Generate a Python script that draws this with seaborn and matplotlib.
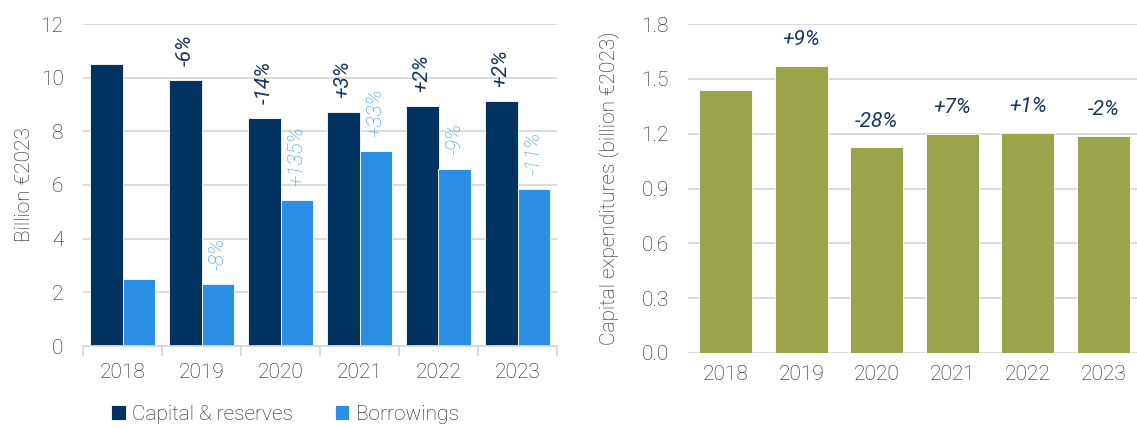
import matplotlib
matplotlib.use("Agg")
import matplotlib.pyplot as plt
import seaborn as sns
import pandas as pd
import numpy as np

years = ["2018", "2019", "2020", "2021", "2022", "2023"]
capital = [10.52, 9.90, 8.50, 8.72, 8.94, 9.14]
borrowings = [2.51, 2.30, 5.44, 7.27, 6.59, 5.86]
capital_labels = ["", "-6%", "-14%", "+3%", "+2%", "+2%"]
borrow_labels = ["", "-8%", "+135%", "+33%", "-9%", "-11%"]
capex = [1.44, 1.57, 1.125, 1.20, 1.205, 1.187]
capex_labels = ["", "+9%", "-28%", "+7%", "+1%", "-2%"]
series_names = ["Capital & reserves", "Borrowings"]

NAVY = "#00335F"
BLUE = "#2B8FE6"
OLIVE = "#9BA34B"
CAP_LBL = "#17365F"
BOR_LBL = "#3596EC"
GRID = "#D9D9D9"
TXT = "#1A1A1A"
FS = 15

sns.set_theme(style="white")
plt.rcParams["font.family"] = ["Roboto", "DejaVu Sans"]

fig = plt.figure(figsize=(11.37, 4.28), dpi=100)
axL = fig.add_axes([83 / 1137, 1 - 346 / 428, (557 - 83) / 1137, (346 - 24) / 428])
axR = fig.add_axes([688 / 1137, 1 - 353 / 428, (1141 - 688) / 1137, (353 - 24) / 428])

df = pd.DataFrame({
    "year": years * 2,
    "value": capital + borrowings,
    "series": [series_names[0]] * len(years) + [series_names[1]] * len(years),
})
sns.barplot(data=df, x="year", y="value", hue="series", palette=[NAVY, BLUE],
            width=0.83, ax=axL, legend=True, edgecolor="white", linewidth=0.6,
            saturation=1)

axL.set_ylim(0, 12)
axL.set_yticks(np.arange(0, 13, 2))
axL.set_xlim(-0.5, len(years) - 0.5)
axL.yaxis.grid(True, color=GRID, linewidth=1.3)
axL.set_axisbelow(True)
for s in ["top", "right", "left"]:
    axL.spines[s].set_visible(False)
axL.spines["bottom"].set_color(GRID)
axL.spines["bottom"].set_linewidth(1.3)
axL.set_xticks(np.arange(-0.5, len(years), 1.0), minor=True)
axL.tick_params(axis="x", which="minor", length=7, width=1.3, color=GRID, bottom=True)
axL.tick_params(axis="x", which="major", length=0, pad=12, labelsize=FS, labelcolor=TXT)
axL.tick_params(axis="y", length=0, pad=14, labelsize=FS, labelcolor=TXT)
axL.set_xlabel("")
axL.set_ylabel("Billion €2023", fontsize=FS, color=TXT, labelpad=5, fontweight="light")
for lbl in axL.get_xticklabels() + axL.get_yticklabels():
    lbl.set_fontweight("light")

for bar, t in zip(axL.containers[0], capital_labels):
    if t:
        axL.annotate(t, (bar.get_x() + bar.get_width() / 2, bar.get_height()),
                     xytext=(0, 10), textcoords="offset points", rotation=90,
                     ha="center", va="bottom", fontsize=FS, style="italic",
                     fontweight="normal", color=CAP_LBL)
for bar, t in zip(axL.containers[1], borrow_labels):
    if t:
        axL.annotate(t, (bar.get_x() + bar.get_width() / 2, bar.get_height()),
                     xytext=(0, 10), textcoords="offset points", rotation=90,
                     ha="center", va="bottom", fontsize=FS, style="italic",
                     fontweight="light", color=BOR_LBL)

leg = axL.legend(loc="center", bbox_to_anchor=(285 / 1137, 1 - 414 / 428),
                 bbox_transform=fig.transFigure, ncol=2, frameon=False,
                 fontsize=FS, handlelength=0.7, handleheight=0.7,
                 handletextpad=0.3, columnspacing=2.0)
for txt in leg.get_texts():
    txt.set_color(TXT)
    txt.set_fontweight("light")

dfr = pd.DataFrame({"year": years, "capex": capex})
sns.barplot(data=dfr, x="year", y="capex", color=OLIVE, width=0.7, ax=axR,
            edgecolor="white", linewidth=0.6, saturation=1)
axR.set_ylim(0, 1.8)
axR.set_yticks(np.arange(0, 1.81, 0.3))
axR.set_yticklabels([f"{v:.1f}" for v in np.arange(0, 1.81, 0.3)])
axR.set_xlim(-0.5, len(years) - 0.5)
axR.yaxis.grid(True, color=GRID, linewidth=1.3)
axR.set_axisbelow(True)
for s in ["top", "right", "left", "bottom"]:
    axR.spines[s].set_visible(False)
axR.tick_params(axis="x", length=0, pad=9, labelsize=FS, labelcolor=TXT)
axR.tick_params(axis="y", length=0, pad=14, labelsize=FS, labelcolor=TXT)
axR.set_xlabel("")
axR.set_ylabel("Capital expenditures (billion €2023)", fontsize=FS, color=TXT,
               labelpad=16, fontweight="light")
for lbl in axR.get_xticklabels() + axR.get_yticklabels():
    lbl.set_fontweight("light")

for bar, t in zip(axR.containers[0], capex_labels):
    if t:
        axR.annotate(t, (bar.get_x() + bar.get_width() / 2, bar.get_height()),
                     xytext=(0, 12), textcoords="offset points",
                     ha="center", va="bottom", fontsize=FS, style="italic",
                     fontweight="normal", color=CAP_LBL)

fig.savefig("out.png", dpi=100)
